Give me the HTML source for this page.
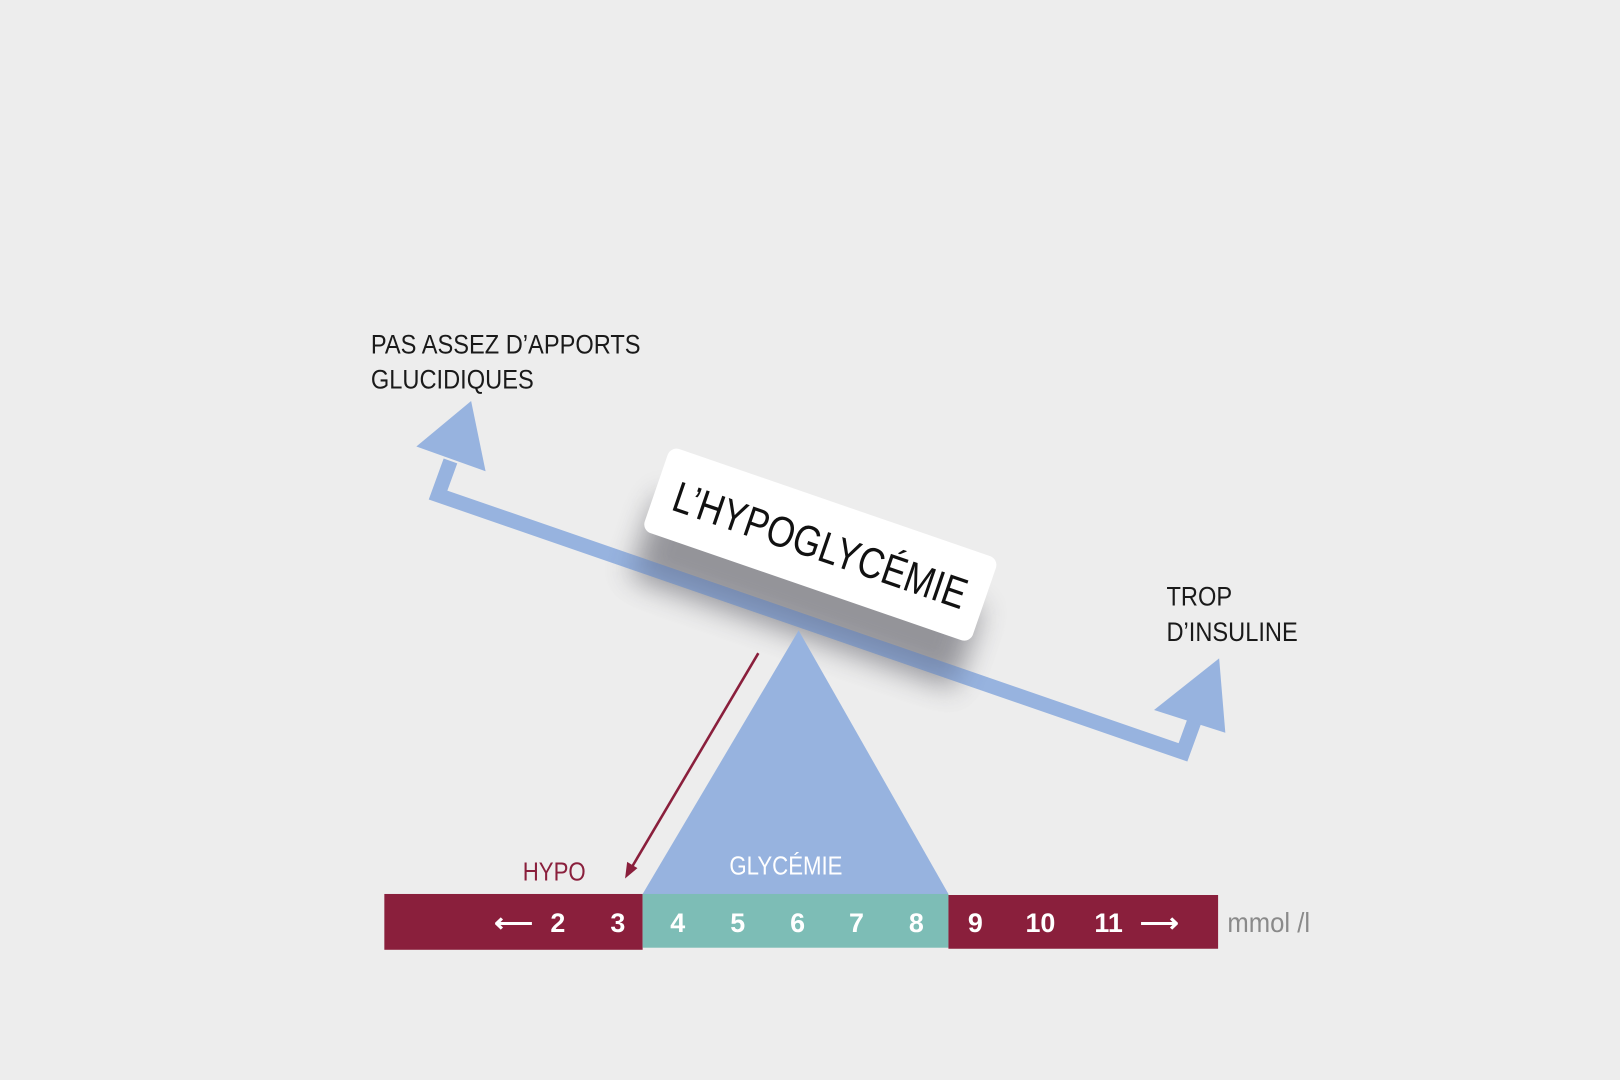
<!DOCTYPE html>
<html><head><meta charset="utf-8"><style>
html,body{margin:0;padding:0;background:#ededed;}
svg{display:block}
text{font-family:"Liberation Sans",sans-serif;}
</style></head><body>
<svg width="1620" height="1080" viewBox="0 0 1568 1045" preserveAspectRatio="none" xmlns="http://www.w3.org/2000/svg">
<defs>
<filter id="blur" x="-30%" y="-60%" width="160%" height="220%"><feGaussianBlur stdDeviation="14"/></filter>
</defs>
<rect width="1568" height="1045" fill="#ededed"/>
<g font-size="26" fill="#1a1a1a" transform="translate(359,0) scale(0.88,1)">
<text x="0" y="342">PAS ASSEZ D’APPORTS</text>
<text x="0" y="376">GLUCIDIQUES</text>
</g>
<g font-size="26" fill="#1a1a1a" transform="translate(1129,0) scale(0.88,1)">
<text x="0" y="586">TROP</text>
<text x="0" y="620">D’INSULINE</text>
</g>
<g transform="translate(780,572) rotate(19)">
<rect x="-165" y="-40" width="330" height="80" fill="#888" opacity="0.45" filter="url(#blur)"/>
</g>
<polyline points="436,446 424,479 1145,728 1157,695" fill="none" stroke="#97b3df" stroke-width="14" stroke-linejoin="miter"/>
<polygon points="403,432 456,388 470,456" fill="#97b3df"/>
<polygon points="1117,687 1180,637 1186,709" fill="#97b3df"/>
<g transform="translate(780,574) rotate(19)">
<rect x="-165" y="-40" width="330" height="80" fill="#334" opacity="0.3" filter="url(#blur)"/>
</g>
<g transform="translate(794,527) rotate(19)">
<rect x="-168" y="-43" width="336" height="86" rx="9" fill="#fff"/>
<text x="0" y="15" font-size="42" text-anchor="middle" fill="#111" transform="scale(0.82,1)">L’HYPOGLYCÉMIE</text>
</g>
<polygon points="773,610 622,865 918,865" fill="#97b3df"/>
<line x1="734" y1="632" x2="611" y2="840" stroke="#8a1f3c" stroke-width="2.5"/>
<polygon points="605,850 607,834 617,840" fill="#8a1f3c"/>
<rect x="372" y="865" width="250" height="54" fill="#8a1f3c"/>
<rect x="622" y="865" width="296" height="52" fill="#7dbdb6"/>
<rect x="918" y="866" width="261" height="52" fill="#8a1f3c"/>
<g font-size="25" fill="#8a1f3c" transform="translate(506,0) scale(0.86,1)"><text x="0" y="852">HYPO</text></g>
<g font-size="25" fill="#fff" transform="translate(706,0) scale(0.86,1)"><text x="0" y="846">GLYCÉMIE</text></g>
<g font-size="26" font-weight="bold" fill="#fff" text-anchor="middle">
<text x="497" y="902">⟵</text>
<text x="540" y="902">2</text><text x="598" y="902">3</text>
<text x="656" y="902">4</text><text x="714" y="902">5</text><text x="772" y="902">6</text>
<text x="829" y="902">7</text><text x="887" y="902">8</text><text x="944" y="902">9</text>
<text x="1007" y="902">10</text><text x="1073" y="902">11</text>
<text x="1122" y="902">⟶</text>
</g>
<g font-size="27" fill="#8a8a8a" transform="translate(1188,0) scale(0.92,1)"><text x="0" y="902">mmol /l</text></g>
</svg>
</body></html>
